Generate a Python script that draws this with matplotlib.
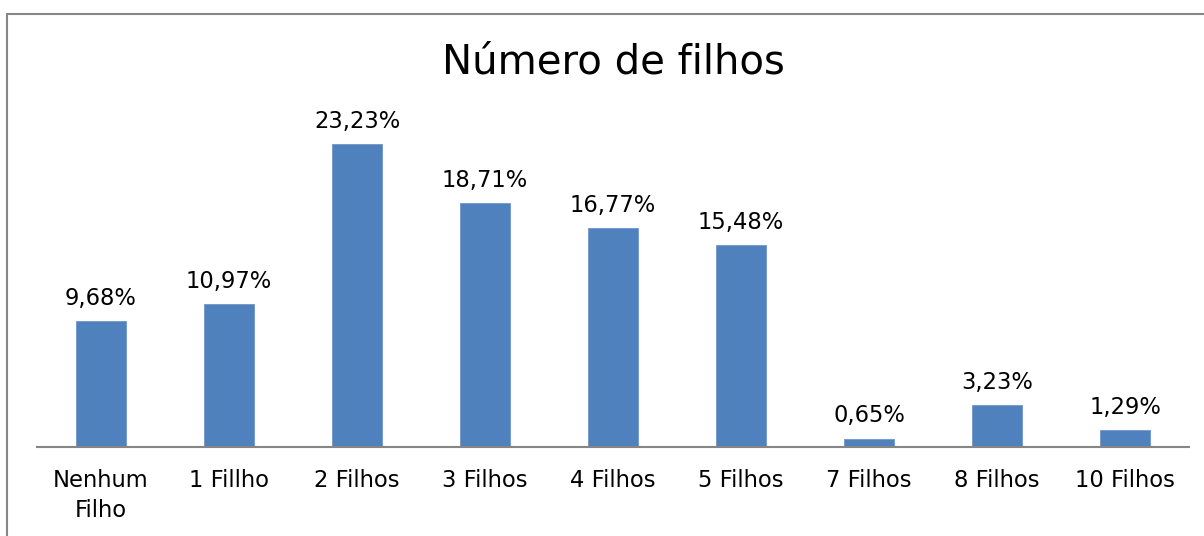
import matplotlib
matplotlib.use("Agg")
import matplotlib.pyplot as plt
from matplotlib.patches import Rectangle

categories = ["Nenhum\nFilho", "1 Fillho", "2 Filhos", "3 Filhos", "4 Filhos",
              "5 Filhos", "7 Filhos", "8 Filhos", "10 Filhos"]
values = [9.68, 10.97, 23.23, 18.71, 16.77, 15.48, 0.65, 3.23, 1.29]
labels = ["9,68%", "10,97%", "23,23%", "18,71%", "16,77%", "15,48%", "0,65%", "3,23%", "1,29%"]
title = "Número de filhos"

plt.rcParams['font.family'] = ['DejaVu Sans']

W, H = 1204, 536
fig = plt.figure(figsize=(W / 100, H / 100), dpi=100)
ax = fig.add_axes([37 / W, (H - 447) / H, (1189 - 37) / W, (447 - 121) / H])

x = list(range(len(categories)))
ax.bar(x, values, width=0.39, color="#4F81BD", edgecolor="#6F96CB", linewidth=0.6, zorder=2)
for xi, v, lab in zip(x, values, labels):
    ax.annotate(lab, (xi, v), xytext=(0, 8), textcoords="offset points",
                ha="center", va="bottom", fontsize=16.3, color="#000000")

ax.set_xlim(-0.5, len(categories) - 0.5)
ax.set_ylim(0, 25)
ax.set_xticks(x)
ax.set_xticklabels(categories, fontsize=16.3, linespacing=1.4)
ax.tick_params(axis="x", length=0, pad=16)
ax.set_yticks([])
for s in ["top", "right", "left"]:
    ax.spines[s].set_visible(False)
ax.spines["bottom"].set_color("#868686")
ax.spines["bottom"].set_linewidth(1.5)

fig.text(613 / W, 1 - 63 / H, title, ha="center", va="center", fontsize=29, color="#000000")

# chart area border (top and left visible)
fig.patches.append(Rectangle((6.5 / W, -0.1), 1.2, (H - 13.5) / H + 0.1,
                             transform=fig.transFigure, fill=False,
                             edgecolor="#878787", linewidth=1.5))

fig.savefig("out.png", dpi=100, facecolor="white")
